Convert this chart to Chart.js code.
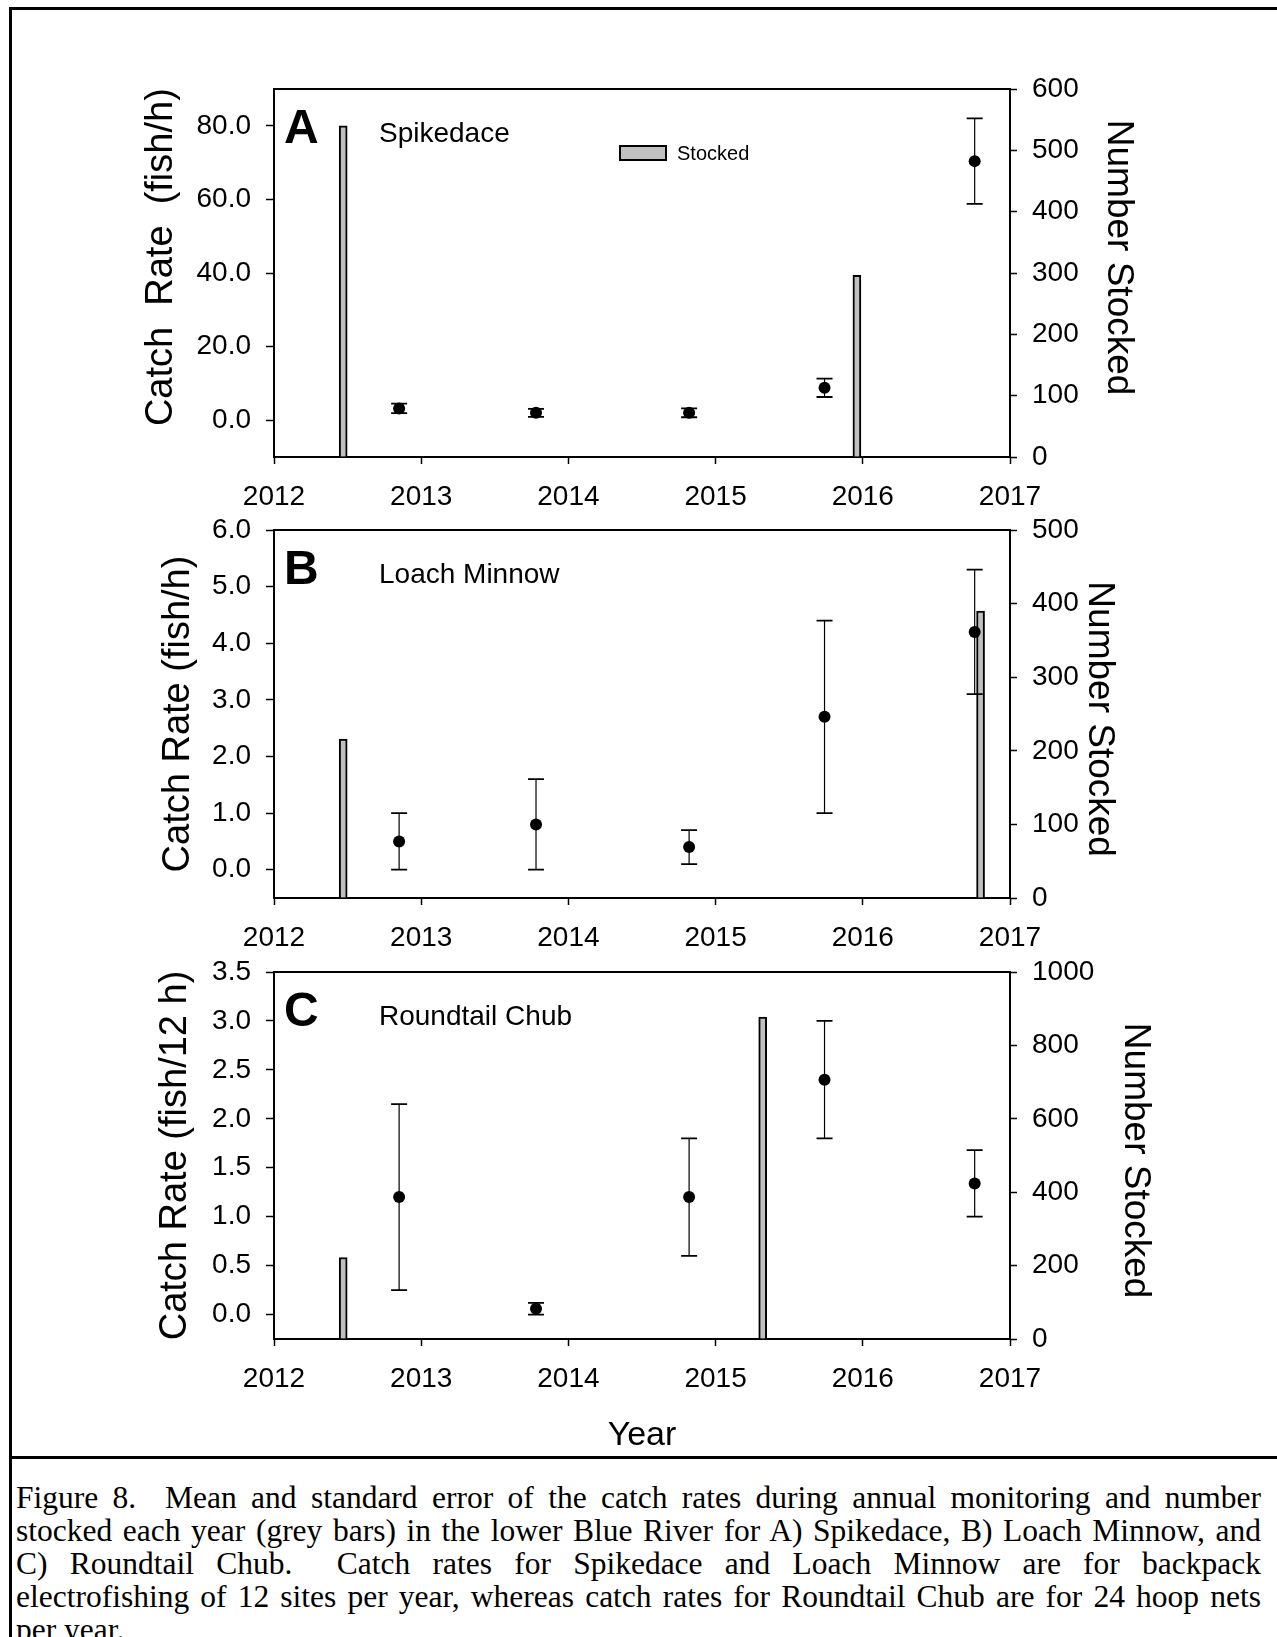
<!DOCTYPE html>
<html>
<head>
<meta charset="utf-8">
<title>Figure 8</title>
<script src="https://cdn.jsdelivr.net/npm/chart.js@4.4.1/dist/chart.umd.min.js"></script>
<style>
  html, body { margin: 0; padding: 0; background: #fff; }
  body { position: relative; width: 1277px; height: 1637px; overflow: hidden; }
  .frame { position: absolute; left: 9px; top: 7px; width: 1320px; height: 1700px;
           border-left: 3px solid #000; border-top: 3px solid #000; }
  .rule { position: absolute; left: 9px; top: 1456px; width: 1320px; height: 3px; background: #000; }
  canvas { position: absolute; left: 0; }
  #caption { position: absolute; left: 16px; top: 1481px; width: 1245px; color: #000;
             font-family: "Liberation Serif", "Times New Roman", serif; font-size: 31.5px; line-height: 33px; }
  #caption .j { text-align: justify; text-align-last: justify; }
</style>
</head>
<body>
<div class="frame"></div>
<canvas id="chartA" width="1277" height="530" style="top:0px"></canvas>
<canvas id="chartB" width="1277" height="480" style="top:480px"></canvas>
<canvas id="chartC" width="1277" height="538" style="top:920px"></canvas>
<div class="rule"></div>
<div id="caption">
  <div class="j">Figure 8.&nbsp; Mean and standard error of the catch rates during annual monitoring and number</div>
  <div class="j">stocked each year (grey bars) in the lower Blue River for A) Spikedace, B) Loach Minnow, and</div>
  <div class="j">C) Roundtail Chub.&nbsp; Catch rates for Spikedace and Loach Minnow are for backpack</div>
  <div class="j">electrofishing of 12 sites per year, whereas catch rates for Roundtail Chub are for 24 hoop nets</div>
  <div>per year.</div>
</div>
<script>
// sampling dates (decimal years) shared by all three panels
const sampleYears = [2012.85, 2013.78, 2014.82, 2015.74, 2016.76];
const yearTicks = [2012, 2013, 2014, 2015, 2016, 2017];

// A) Spikedace
const rateA = [3.2, 2.0, 2.0, 8.8, 70.4];
const seA = [1.3, 1.1, 1.2, 2.5, 11.6];
const stockYearsA = [2012.47, 2015.96];
const stockedA = [540, 296];
const leftTicksA = [0, 20, 40, 60, 80];
const rightTicksA = [0, 100, 200, 300, 400, 500, 600];

// B) Loach Minnow
const rateB = [0.5, 0.8, 0.4, 2.7, 4.2];
const seB = [0.5, 0.8, 0.3, 1.7, 1.1];
const stockYearsB = [2012.47, 2016.80];
const stockedB = [216, 390];
const leftTicksB = [0, 1, 2, 3, 4, 5, 6];
const rightTicksB = [0, 100, 200, 300, 400, 500];

// C) Roundtail Chub
const rateC = [1.2, 0.06, 1.2, 2.4, 1.34];
const seC = [0.95, 0.06, 0.6, 0.6, 0.34];
const stockYearsC = [2012.47, 2015.32];
const stockedC = [222, 877];
const leftTicksC = [0, 0.5, 1.0, 1.5, 2.0, 2.5, 3.0, 3.5];
const rightTicksC = [0, 200, 400, 600, 800, 1000];

const FONT = '"Liberation Sans", Arial, sans-serif';
Chart.defaults.font.family = FONT;
Chart.defaults.color = '#000';

const PLOT_LEFT = 274;
const PLOT_RIGHT = 1010;
const PAGE_W = 1277;

// top edge of the plot box (left/right/bottom come from the axes)
const frameTop = {
  id: 'frameTop',
  afterDraw(chart) {
    const { ctx, chartArea: a } = chart;
    ctx.save();
    ctx.strokeStyle = '#000';
    ctx.lineWidth = 2;
    ctx.beginPath();
    ctx.moveTo(a.left - 1, a.top);
    ctx.lineTo(a.right + 1, a.top);
    ctx.stroke();
    ctx.restore();
  }
};

// mean +/- standard error whiskers
const errorBars = {
  id: 'errorBars',
  afterDatasetsDraw(chart) {
    const { ctx } = chart;
    chart.data.datasets.forEach((ds, i) => {
      if (!ds.errors) return;
      const meta = chart.getDatasetMeta(i);
      const yScale = chart.scales[meta.yAxisID];
      ctx.save();
      ctx.strokeStyle = '#000';
      meta.data.forEach((pt, j) => {
        const v = ds.data[j].y;
        const e = ds.errors[j];
        const hi = yScale.getPixelForValue(v + e);
        const lo = yScale.getPixelForValue(v - e);
        ctx.lineWidth = 1.2;
        ctx.beginPath();
        ctx.moveTo(pt.x, hi);
        ctx.lineTo(pt.x, lo);
        ctx.stroke();
        ctx.lineWidth = 1.8;
        ctx.beginPath();
        ctx.moveTo(pt.x - 8, hi);
        ctx.lineTo(pt.x + 8, hi);
        ctx.moveTo(pt.x - 8, lo);
        ctx.lineTo(pt.x + 8, lo);
        ctx.stroke();
      });
      ctx.restore();
    });
  }
};

// panel letter, species name and (panel A only) the legend
const panelText = {
  id: 'panelText',
  afterDraw(chart, args, opts) {
    const { ctx, chartArea: a } = chart;
    ctx.save();
    ctx.fillStyle = '#000';
    ctx.textBaseline = 'alphabetic';
    ctx.textAlign = 'left';
    ctx.font = 'bold 48px ' + FONT;
    ctx.fillText(opts.letter, a.left + 10, a.top + 54);
    ctx.font = '28px ' + FONT;
    ctx.fillText(opts.name, a.left + 105, a.top + 53);
    if (opts.legend) {
      ctx.fillStyle = '#c0c0c0';
      ctx.fillRect(a.left + 346, a.top + 57, 46, 14);
      ctx.strokeStyle = '#000';
      ctx.lineWidth = 2;
      ctx.strokeRect(a.left + 346, a.top + 57, 46, 14);
      ctx.fillStyle = '#000';
      ctx.font = '20px ' + FONT;
      ctx.fillText(opts.legend, a.left + 403, a.top + 71);
    }
    ctx.restore();
  }
};

function tickGrid(len) {
  return { display: true, offset: false, drawOnChartArea: false, drawTicks: true,
           tickLength: len, tickWidth: 1.5, tickColor: '#000' };
}
const axisBorder = { display: true, color: '#000', width: 2 };

function makePanel(canvasId, p) {
  const canvas = document.getElementById(canvasId);
  const top = p.plotTop - p.canvasTop;
  const bottom = p.plotBottom - p.canvasTop;
  const xAxisHeight = canvas.height - bottom;

  return new Chart(canvas, {
    type: 'scatter',
    data: {
      datasets: [
        {
          type: 'scatter',
          label: 'Catch rate',
          data: sampleYears.map((x, i) => ({ x: x, y: p.rate[i] })),
          errors: p.se,
          yAxisID: 'y',
          pointRadius: 6,
          pointHoverRadius: 6,
          backgroundColor: '#000',
          borderWidth: 0,
          order: 0
        },
        {
          type: 'bar',
          label: 'Stocked',
          data: p.stockYears.map((x, i) => ({ x: x, y: p.stocked[i] })),
          yAxisID: 'y2',
          backgroundColor: '#c0c0c0',
          borderColor: '#000',
          borderWidth: 2,
          barThickness: 8,
          grouped: false,
          order: 1
        }
      ]
    },
    options: {
      responsive: false,
      animation: false,
      devicePixelRatio: 1,
      layout: { padding: { top: top, left: 0, right: 0, bottom: 0 } },
      plugins: {
        legend: { display: false },
        tooltip: { enabled: false },
        panelText: { letter: p.letter, name: p.name, legend: p.legend }
      },
      scales: {
        x: {
          type: 'linear', min: 2012, max: 2017, offset: false,
          afterBuildTicks: s => { s.ticks = yearTicks.map(v => ({ value: v })); },
          afterFit: s => { s.height = xAxisHeight; },
          grid: tickGrid(7),
          border: axisBorder,
          ticks: { font: { size: 28 }, padding: 16, maxRotation: 0, autoSkip: false,
                   callback: v => String(v) },
          title: p.xTitle
            ? { display: true, text: p.xTitle, font: { size: 34 }, padding: { top: 0, bottom: p.xTitlePad } }
            : { display: false }
        },
        y: {
          type: 'linear', position: 'left', min: p.leftMin, max: p.leftMax,
          afterBuildTicks: s => { s.ticks = p.leftTicks.map(v => ({ value: v })); },
          afterFit: s => { s.width = PLOT_LEFT; },
          grid: tickGrid(8),
          border: axisBorder,
          ticks: { font: { size: 28 }, padding: 15, callback: v => Number(v).toFixed(1) },
          title: { display: true, text: p.leftTitle, font: { size: 38 },
                   padding: { top: p.leftTitlePad, bottom: 0 } }
        },
        y2: {
          type: 'linear', position: 'right', min: 0, max: p.rightMax,
          afterBuildTicks: s => { s.ticks = p.rightTicks.map(v => ({ value: v })); },
          afterFit: s => { s.width = PAGE_W - PLOT_RIGHT; },
          grid: tickGrid(7),
          border: axisBorder,
          ticks: { font: { size: 28 }, padding: 15, callback: v => String(v) },
          title: { display: true, text: p.rightTitle, font: { size: 37 },
                   padding: { top: p.rightTitlePad, bottom: 0 } }
        }
      }
    },
    plugins: [frameTop, errorBars, panelText]
  });
}

// the axis titles are not exactly centred on the plots in the original; padding spaces nudge them
makePanel('chartA', {
  canvasTop: 0, plotTop: 89, plotBottom: 457,
  rate: rateA, se: seA, stockYears: stockYearsA, stocked: stockedA,
  leftMin: -10, leftMax: 90, leftTicks: leftTicksA,
  rightMax: 600, rightTicks: rightTicksA,
  leftTitle: '   Catch  Rate  (fish/h)', leftTitlePad: 138.5,
  rightTitle: 'Number Stocked   ', rightTitlePad: 136.4,
  letter: 'A', name: 'Spikedace', legend: 'Stocked'
});

makePanel('chartB', {
  canvasTop: 480, plotTop: 530, plotBottom: 898,
  rate: rateB, se: seB, stockYears: stockYearsB, stocked: stockedB,
  leftMin: -0.5, leftMax: 6, leftTicks: leftTicksB,
  rightMax: 500, rightTicks: rightTicksB,
  leftTitle: 'Catch Rate (fish/h)', leftTitlePad: 155.7,
  rightTitle: ' Number Stocked', rightTitlePad: 156,
  letter: 'B', name: 'Loach Minnow'
});

makePanel('chartC', {
  canvasTop: 920, plotTop: 972, plotBottom: 1339,
  rate: rateC, se: seC, stockYears: stockYearsC, stocked: stockedC,
  leftMin: -0.25, leftMax: 3.5, leftTicks: leftTicksC,
  rightMax: 1000, rightTicks: rightTicksC,
  leftTitle: 'Catch Rate (fish/12 h)', leftTitlePad: 153.2,
  rightTitle: ' Number Stocked', rightTitlePad: 120,
  letter: 'C', name: 'Roundtail Chub',
  xTitle: 'Year', xTitlePad: 1.6
});
</script>
</body>
</html>
